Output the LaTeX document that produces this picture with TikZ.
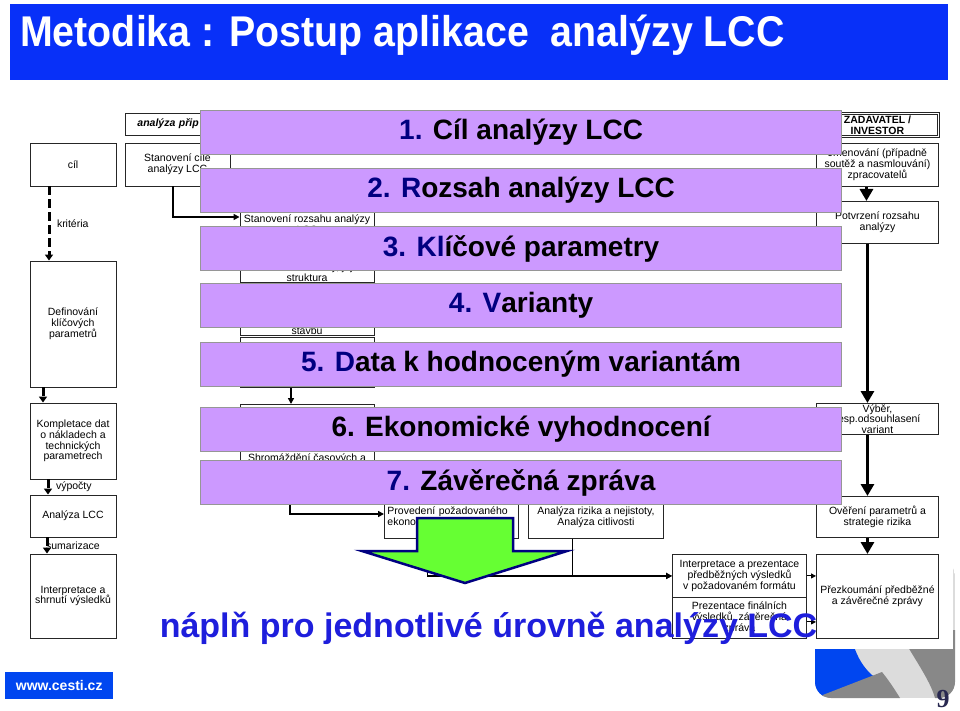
\documentclass[tikz,border=0pt]{standalone}
\usepackage{graphicx}
\usepackage{fontspec}
\setmainfont{Liberation Sans}
\newfontfamily\numfont{Liberation Serif}
\usetikzlibrary{arrows.meta}
\definecolor{bandfill}{RGB}{204,153,255}
\definecolor{bandline}{RGB}{150,150,150}
\definecolor{titleblue}{RGB}{8,48,248}
\definecolor{textblue}{RGB}{30,30,220}
\definecolor{navy}{RGB}{0,0,128}
\definecolor{arrgreen}{RGB}{102,255,51}
\definecolor{logoblue}{RGB}{0,70,240}
\definecolor{darkgrey}{RGB}{136,136,136}
\definecolor{lightgrey}{RGB}{220,220,220}
\definecolor{pagenum}{RGB}{40,40,80}

\begin{document}
\begin{tikzpicture}[x=1pt,y=-1pt,
  box/.style={draw=black!85, line width=0.9pt, fill=white, align=center, inner sep=1pt,
    font=\fontsize{10.5}{10.8}\selectfont},
  band/.style={draw=bandline, line width=1.2pt, fill=bandfill, minimum width=641pt,
    minimum height=44pt, inner sep=0pt, anchor=north west, font=\bfseries\fontsize{28}{30}\selectfont},
  lbl/.style={font=\fontsize{10.5}{11}\selectfont, inner sep=0pt},
  dasharrow/.style={line width=3pt, dash pattern=on 9pt off 4pt, -{Triangle[width=8pt,length=6pt]}},
  thinarrow/.style={line width=1.5pt, -{Triangle[width=6pt,length=6pt]}},
  smallarrow/.style={line width=1pt, -{Triangle[width=5pt,length=5pt]}},
  fatarrow/.style={line width=3pt, -{Triangle[width=13pt,length=12pt]}},
]
\useasboundingbox (0,0) rectangle (960,711);

% title
\fill[titleblue] (10,4) rectangle (948,80);
\node[anchor=base west, text=white, inner sep=0pt, font=\bfseries\fontsize{43}{45}\selectfont] (title)
  at (20,47) {\scalebox{0.915}[1]{Metodika : Postup aplikace\ \ analýzy LCC}};

% corner decoration
\begin{scope}
  \clip[rounded corners=16pt] (815,560) rectangle (955,698);
  \fill[lightgrey] (815,560) rectangle (955,698);
  \fill[logoblue] (815,630) -- (850,630) .. controls (855,660) and (868,675) .. (885,684) -- (815,698) -- cycle;
  \fill[darkgrey] (815,698) -- (882,672) .. controls (890,682) and (895,690) .. (900,698) -- cycle;
  \fill[darkgrey] (898,630) .. controls (915,660) and (930,680) .. (935,698) -- (955,698) -- (955,630) -- cycle;
\end{scope}
\fill[white] (805,545) rectangle (953,649);

% left column
\node[box, minimum width=86pt, minimum height=43pt] (cil) at (73,164.5) {cíl};
\node[box, minimum width=86pt, minimum height=126pt] (def) at (73,324) {Definování\\klíčových\\parametrů};
\node[box, minimum width=86pt, minimum height=76pt] (komp) at (73,441) {Kompletace dat\\o nákladech a\\technických\\parametrech};
\node[box, minimum width=86pt, minimum height=42pt] (anal) at (73,516) {Analýza LCC};
\node[box, minimum width=86pt, minimum height=84pt] (shrn) at (73,596) {Interpretace a\\shrnutí výsledků};

\draw[dasharrow] ([xshift=-24pt]cil.south) -- ([xshift=-24pt]def.north)
  node[lbl, midway, right=6.5pt] {kritéria};
\draw[dasharrow] ([xshift=-30pt]def.south) -- ([xshift=-30pt]komp.north);
\draw[dasharrow] ([xshift=-25pt]komp.south) -- ([xshift=-25pt]anal.north)
  node[lbl, midway, right=6.5pt] {výpočty};
\draw[dasharrow] ([xshift=-26pt]anal.south) -- ([xshift=-26pt]shrn.north)
  node[lbl, midway, xshift=26pt] {sumarizace};

% second column
\node[box, anchor=west, minimum height=22pt, text width=221pt, align=left, inner xsep=12pt,
  font=\bfseries\itshape\fontsize{10.5}{10.8}\selectfont] (pripr) at (125,124) {analýza přip};
\node[box, minimum width=105pt, minimum height=43pt] (cile) at (177.5,164.5) {Stanovení cíle\\analýzy LCC};
\node[box, minimum width=134pt, minimum height=26pt, anchor=north] (rozsah) at (307,211) {Stanovení rozsahu analýzy\\LCC};
\node[box, minimum width=134pt, anchor=south] (relev) at (307,283) {Relevantní náklady, jejich\\struktura};
\node[box, minimum width=134pt, anchor=south] (stavbu) at (307,336) {stavbu};
\node[box, minimum width=134pt, minimum height=50pt, anchor=north] (vymez) at (307,337) {};
\node[box, minimum width=134pt, minimum height=95pt, anchor=north] (shrom) at (307,404) {};
\node[lbl] (shromt) at (307,459) {Shromáždění časových a};

% third column
\node[box, anchor=north west, minimum height=38pt, text width=128pt, align=left, inner xsep=3pt] (proved)
  at (384,500) {Provedení požadovaného\\ekonomického\\[-4pt]\mbox{}};
\node[box, anchor=north west, minimum width=135pt, minimum height=38pt] (riziko)
  at (528,500) {Analýza rizika a nejistoty,\\Analýza citlivosti\\[-4pt]\mbox{}};
\node[box, anchor=north west, minimum width=134pt, minimum height=43pt] (interp)
  at (672,554) {Interpretace a prezentace\\předběžných výsledků\\v požadovaném formátu};
\node[box, anchor=north west, minimum width=134pt, minimum height=41pt] (prez)
  at (672,597) {Prezentace finálních\\výsledků, závěrečná\\zpráva};

% right column
\node[box, anchor=north west, minimum width=122pt, minimum height=23pt, double, double distance=1pt,
  font=\bfseries\fontsize{10.5}{10.8}\selectfont] (zadav) at (816,113) {ZADAVATEL /\\INVESTOR};
\node[box, anchor=north west, minimum width=122pt, minimum height=43pt] (jmen)
  at (816,143) {Jmenování (případně\\soutěž a nasmlouvání)\\zpracovatelů};
\node[box, anchor=north west, minimum width=122pt, minimum height=42pt] (potv)
  at (816,201) {Potvrzení rozsahu\\analýzy};
\node[box, anchor=north west, minimum width=122pt, minimum height=30pt] (vyber)
  at (816,403) {Výběr,\\resp.odsouhlasení\\variant};
\node[box, anchor=north west, minimum width=122pt, minimum height=41pt] (over)
  at (816,496) {Ověření parametrů a\\strategie rizika};
\node[box, anchor=north west, minimum width=122pt, minimum height=84pt] (prezk)
  at (816,554) {Přezkoumání předběžné\\a závěrečné zprávy};

% connectors
\draw[thinarrow] ([xshift=-4.5pt]cile.south) |- ([yshift=-6pt]rozsah.north west);
\draw[thinarrow] ([xshift=-16pt]vymez.south) -- ([xshift=-16pt]shrom.north);
\draw[thinarrow] ([xshift=-17pt]shrom.south) |- ([yshift=-14pt]proved.north west);
\draw[thinarrow] ([xshift=-24pt]proved.south) |- (interp.west);
\draw[thinarrow] ([xshift=-23.5pt]riziko.south) |- (interp.west);
\draw[smallarrow] (interp.east) -- (interp.east -| prezk.west);
\draw[smallarrow] ([yshift=-4pt]prez.east) -- ([yshift=-4pt]prez.east -| prezk.west);

\draw[fatarrow] ([xshift=-11pt]jmen.south) -- ([xshift=-11pt]potv.north);
\draw[fatarrow] ([xshift=-10pt]potv.south) -- ([xshift=-10pt]vyber.north);
\draw[fatarrow] ([xshift=-10pt]vyber.south) -- ([xshift=-10pt]over.north);
\draw[fatarrow] ([xshift=-10pt]over.south) -- ([xshift=-10pt]prezk.north);

% step bands
\node[band] (b1) at (200,110) {\textcolor{navy}{1.} Cíl analýzy LCC};
\node[band] (b2) at (200,168) {\textcolor{navy}{2. R}ozsah analýzy LCC};
\node[band] (b3) at (200,226) {\textcolor{navy}{3. Kl}íčové parametry};
\node[band] (b4) at (200,283) {\textcolor{navy}{4. V}arianty};
\node[band] (b5) at (200,342) {\textcolor{navy}{5. D}ata k hodnoceným variantám};
\node[band] (b6) at (200,407) {6. Ekonomické vyhodnocení};
\node[band] (b7) at (200,460) {\textcolor{navy}{7.} Závěrečná zpráva};

% big arrow
\draw[draw=navy, fill=arrgreen, line width=2.5pt, line join=miter]
  (417,518) -- (513,518) -- (513,551) -- (567,551) -- (465,583) -- (362,551) -- (417,551) -- cycle;

\node[anchor=base, text=textblue, inner sep=0pt, font=\bfseries\fontsize{34}{36}\selectfont] (napln)
  at (488.5,637) {náplň pro jednotlivé úrovně analýzy LCC};

% footer
\node[anchor=north west, fill=logoblue, text=white, minimum width=108pt, minimum height=27pt, inner sep=0pt,
  font=\bfseries\fontsize{14}{14}\selectfont] (web) at (5,672) {www.cesti.cz};
\node[anchor=base, text=pagenum, inner sep=0pt, font=\numfont\bfseries\fontsize{26}{26}\selectfont] (page)
  at (943,707) {9};
\end{tikzpicture}
\end{document}
